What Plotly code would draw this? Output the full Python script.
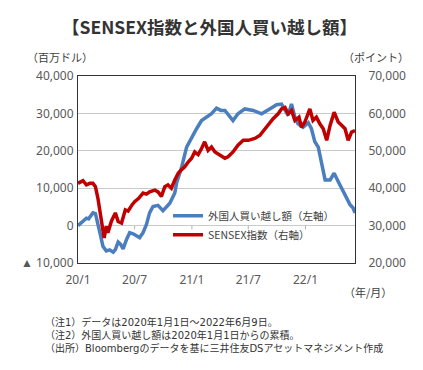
import plotly.graph_objects as go

# ---- data ----
flow_dates = ["2020-01-01","2020-01-12","2020-01-28","2020-02-04","2020-02-18","2020-02-26",
              "2020-03-05","2020-03-14","2020-03-21","2020-04-01","2020-04-12","2020-04-23",
              "2020-04-30","2020-05-09","2020-05-17","2020-05-25","2020-06-05","2020-06-15",
              "2020-06-26","2020-07-07","2020-07-17","2020-07-28","2020-08-08","2020-08-18",
              "2020-08-29","2020-09-14","2020-09-30","2020-10-22","2020-11-07","2020-11-13",
              "2020-11-28","2020-12-15","2020-12-31","2021-01-16","2021-02-01","2021-02-17",
              "2021-03-05","2021-03-21","2021-04-04","2021-04-17","2021-05-13","2021-05-29",
              "2021-06-20","2021-07-17","2021-08-13","2021-09-08","2021-09-30","2021-10-16",
              "2021-10-27","2021-11-06","2021-11-17","2021-11-28","2021-12-08","2021-12-24",
              "2022-01-10","2022-01-20","2022-01-31","2022-02-11","2022-02-22","2022-03-05",
              "2022-03-21","2022-04-03","2022-04-16","2022-04-27","2022-05-08","2022-05-24",
              "2022-06-03","2022-06-09"]
flow_values = [0, 900, 2000, 1800, 3400, 3200,
               700, -2800, -5500, -6800, -6500, -7100,
               -6400, -4400, -5000, -6200, -3700, -1900,
               -2200, -2600, -3200, -1900, 300, 3400,
               5100, 5400, 4000, 6000, 8700, 11500,
               15300, 21000, 23700, 25900, 28100, 29000,
               29900, 31400, 30800, 30800, 28100, 29900,
               31200, 30800, 29900, 31200, 32300, 32500,
               31000, 29500, 32500, 29000, 27200, 26300,
               27500, 25900, 22400, 21000, 16600, 12200,
               12200, 14000, 11800, 10000, 8700, 5600,
               4700, 3400]

sensex_dates = ["2020-01-01","2020-01-17","2020-01-28","2020-02-08","2020-02-18","2020-02-26",
                "2020-03-05","2020-03-14","2020-03-21","2020-03-25","2020-04-01","2020-04-06",
                "2020-04-17","2020-04-30","2020-05-09","2020-05-20","2020-06-01","2020-06-10",
                "2020-06-23","2020-07-01","2020-07-14","2020-07-28","2020-08-08","2020-08-18",
                "2020-09-04","2020-09-14","2020-09-25","2020-10-06","2020-10-16","2020-10-27",
                "2020-11-07","2020-11-18","2020-11-28","2020-12-09","2020-12-20","2020-12-31",
                "2021-01-10","2021-01-21","2021-02-01","2021-02-11","2021-02-22","2021-03-05",
                "2021-03-16","2021-03-26","2021-04-06","2021-04-17","2021-04-27","2021-05-13",
                "2021-05-29","2021-06-15","2021-07-01","2021-07-22","2021-08-07","2021-08-23",
                "2021-09-03","2021-09-19","2021-10-05","2021-10-16","2021-10-27","2021-11-06",
                "2021-11-17","2021-11-28","2021-12-11","2021-12-19","2021-12-30","2022-01-15",
                "2022-01-25","2022-02-05","2022-02-16","2022-02-27","2022-03-10","2022-03-21",
                "2022-04-03","2022-04-16","2022-04-27","2022-05-08","2022-05-18","2022-05-29",
                "2022-06-09"]
sensex_values = [41300, 42000, 40900, 41300, 41300, 40400,
                 37300, 32500, 28100, 26700, 29800, 28100,
                 31100, 33400, 31100, 30700, 34200, 33900,
                 35600, 36400, 37300, 38700, 38400, 39000,
                 39500, 39000, 37800, 40400, 40900, 40000,
                 42200, 44000, 44900, 45700, 47000, 48000,
                 49700, 49000, 50600, 52400, 50100, 51000,
                 49700, 49200, 48800, 48000, 48400, 49700,
                 51500, 52800, 52800, 53300, 54100, 55900,
                 56800, 58600, 59900, 61200, 61600, 59900,
                 60800, 58100, 59000, 56300, 57700, 61200,
                 58100, 59000, 57200, 55900, 52800, 56800,
                 60300, 57700, 56800, 55900, 52800, 55000,
                 55400]

x_tickvals = ["2020-01-01", "2020-07-01", "2021-01-01", "2021-07-01", "2022-01-01"]
x_ticktext = ["20/1", "20/7", "21/1", "21/7", "22/1"]
left_tickvals = [-10000, 0, 10000, 20000, 30000, 40000]
left_ticktext = ["▲ 10,000", "0", "10,000", "20,000", "30,000", "40,000"]
right_tickvals = [20000, 30000, 40000, 50000, 60000, 70000]
right_ticktext = ["20,000", "30,000", "40,000", "50,000", "60,000", "70,000"]

title_text = "【SENSEX指数と外国人買い越し額】"
notes = ["（注1）データは2020年1月1日～2022年6月9日。",
         "（注2）外国人買い越し額は2020年1月1日からの累積。",
         "（出所）Bloombergのデータを基に三井住友DSアセットマネジメント作成"]

BLUE = "#4a7ebf"
RED = "#c00000"
GRID = "#c8ccc8"
TXT = "#404040"
TICK = "#595959"
JP = "Noto Sans CJK JP"

fig = go.Figure()
fig.add_trace(go.Scatter(x=flow_dates, y=flow_values, mode="lines", name="外国人買い越し額（左軸）",
                         line=dict(color=BLUE, width=3.5), yaxis="y"))
fig.add_trace(go.Scatter(x=sensex_dates, y=sensex_values, mode="lines", name="SENSEX指数（右軸）",
                         line=dict(color=RED, width=3.5), yaxis="y2"))

# small x tick marks on the zero line
for tv in x_tickvals[1:]:
    fig.add_shape(type="line", xref="x", yref="y", x0=tv, x1=tv, y0=0, y1=-1000,
                  line=dict(color="#b0b0b0", width=1), layer="below")

fig.update_layout(
    width=423, height=370,
    margin=dict(l=70, r=76, t=68, b=115),
    paper_bgcolor="white", plot_bgcolor="white",
    showlegend=True,
    legend=dict(x=0.325, y=0.33, xanchor="left", yanchor="top",
                bgcolor="rgba(0,0,0,0)", font=dict(family=JP, size=10.5, color=TXT),
                itemwidth=30, tracegroupgap=0),
    xaxis=dict(type="date", range=["2020-01-01", "2022-06-09"],
               tickmode="array", tickvals=x_tickvals, ticktext=x_ticktext,
               ticks="outside", ticklen=6, tickcolor="rgba(0,0,0,0)",
               tickfont=dict(family="Noto Sans", size=12, color=TICK),
               showgrid=False, showline=True, mirror=True, linecolor="#333333", linewidth=1,
               zeroline=False),
    yaxis=dict(range=[-10000, 40000], tickmode="array", tickvals=left_tickvals,
               ticktext=left_ticktext, ticks="outside", ticklen=1, tickcolor="rgba(0,0,0,0)",
               tickfont=dict(family="Noto Sans", size=12, color=TICK),
               showgrid=True, gridcolor=GRID, gridwidth=1,
               showline=True, mirror=True, linecolor="#333333", linewidth=1, zeroline=False),
    yaxis2=dict(range=[20000, 70000], overlaying="y", side="right", tickmode="array",
                tickvals=right_tickvals, ticktext=right_ticktext,
                ticks="outside", ticklen=10, tickcolor="rgba(0,0,0,0)",
                tickfont=dict(family="Noto Sans", size=12, color=TICK),
                showgrid=False, zeroline=False, showline=False),
)

ann = [
    dict(text="<b>" + title_text + "</b>", x=0.473, y=1.267, font=dict(family=JP, size=17.5, color="#333333")),
    dict(text="（百万ドル）", x=-0.065, y=1.102, font=dict(family=JP, size=11, color=TXT)),
    dict(text="（ポイント）", x=1.076, y=1.102, font=dict(family=JP, size=11, color=TXT)),
    dict(text="（年/月）", x=1.047, y=-0.155, font=dict(family=JP, size=11, color=TXT)),
]
for a in ann:
    fig.add_annotation(xref="paper", yref="paper", showarrow=False, xanchor="center",
                       yanchor="middle", **a)
fig.add_annotation(xref="paper", yref="paper", showarrow=False, xanchor="left", align="left",
                   yanchor="middle", x=-0.126, y=-0.385, text="<br>".join(notes),
                   font=dict(family="DejaVu Sans, " + JP, size=10, color="#333333"))

fig.write_html("out.html")
